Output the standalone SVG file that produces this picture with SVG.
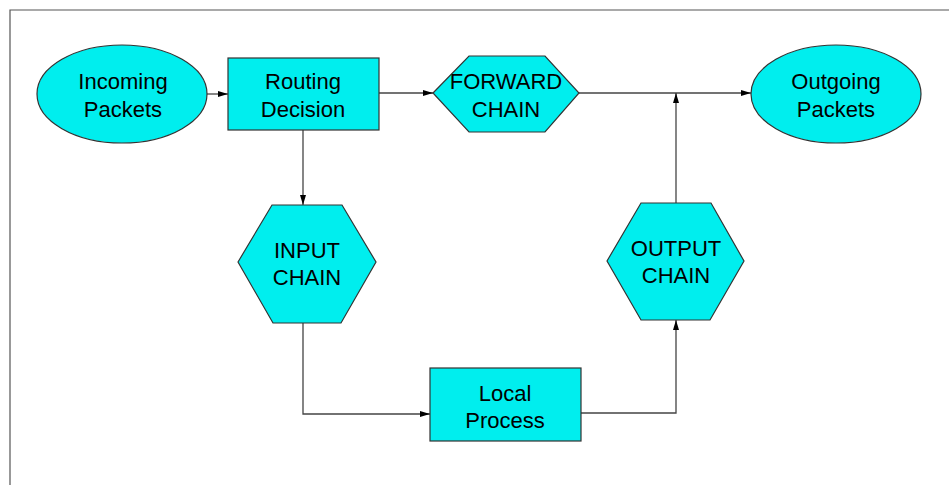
<svg xmlns="http://www.w3.org/2000/svg" width="949" height="485" viewBox="0 0 949 485">
<defs>
<style>
.shape{fill:#00EEEE;stroke:#333;stroke-width:1.2}
.lbl{font-family:"Liberation Sans",Arial,sans-serif;font-size:22px;fill:#000;text-anchor:middle}
.conn{fill:none;stroke:#444;stroke-width:1.3}
</style>
<marker id="arr" viewBox="0 0 10 6" refX="10" refY="3" markerWidth="10" markerHeight="6" markerUnits="userSpaceOnUse" orient="auto">
<path d="M0,0 L10,3 L0,6 Z" fill="#000"/>
</marker>
</defs>
<rect width="949" height="485" fill="#fff"/>
<path d="M949,10 H10 V485" fill="none" stroke="#555" stroke-width="1.2"/>
<g id="connectors">
<path class="conn" d="M207,94 H228" marker-end="url(#arr)"/>
<path class="conn" d="M379,93 H433" marker-end="url(#arr)"/>
<path class="conn" d="M579,93 H751" marker-end="url(#arr)"/>
<path class="conn" d="M303,130 V205" marker-end="url(#arr)"/>
<path class="conn" d="M303,323 V414 H430" marker-end="url(#arr)"/>
<path class="conn" d="M581,413 H676 V320" marker-end="url(#arr)"/>
<path class="conn" d="M676,203 V93" marker-end="url(#arr)"/>
</g>
<g id="incoming">
<ellipse class="shape" cx="122" cy="94" rx="85" ry="49"/>
<text class="lbl" x="123" y="89">Incoming</text>
<text class="lbl" x="123" y="117">Packets</text>
</g>
<g id="routing">
<rect class="shape" x="228" y="58" width="151" height="72"/>
<text class="lbl" x="303" y="89">Routing</text>
<text class="lbl" x="303" y="117">Decision</text>
</g>
<g id="forward">
<polygon class="shape" points="433,93 469,56 545,56 579,93 545,132 469,132"/>
<text class="lbl" x="506" y="89">FORWARD</text>
<text class="lbl" x="506" y="117">CHAIN</text>
</g>
<g id="outgoing">
<ellipse class="shape" cx="836" cy="94" rx="85" ry="49"/>
<text class="lbl" x="836" y="89">Outgoing</text>
<text class="lbl" x="836" y="117">Packets</text>
</g>
<g id="input">
<polygon class="shape" points="238,262 272,205 342,205 376,262 341,323 273,323"/>
<text class="lbl" x="307" y="258">INPUT</text>
<text class="lbl" x="307" y="285">CHAIN</text>
</g>
<g id="output">
<polygon class="shape" points="607,261 641,203 711,203 744,261 710,320 641,320"/>
<text class="lbl" x="676" y="256">OUTPUT</text>
<text class="lbl" x="676" y="283">CHAIN</text>
</g>
<g id="local">
<rect class="shape" x="430" y="368" width="151" height="73"/>
<text class="lbl" x="505" y="401">Local</text>
<text class="lbl" x="505" y="428">Process</text>
</g>
</svg>
